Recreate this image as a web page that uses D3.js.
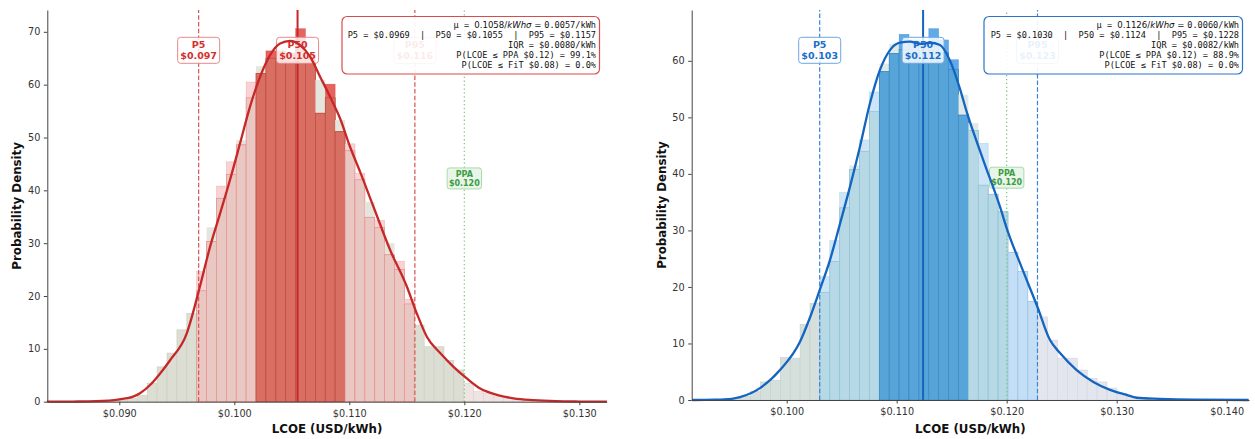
<!DOCTYPE html>
<html>
<head>
<meta charset="utf-8">
<script src="https://cdn.jsdelivr.net/npm/d3@7"></script>
<style>
  body { margin: 0; background: #fff; }
  svg { display: block; font-family: "DejaVu Sans", sans-serif; }
</style>
</head>
<body>
<svg id="chart" width="1255" height="439"></svg>
<script>
// ---------- data ----------
const ppaPrice = 0.12;
const fitPrice = 0.08;
const quantileNames = ["P5", "P25", "P50", "P75", "P95"];

// Scenario A (red)
const leftLcoeTicks = [0.09, 0.10, 0.11, 0.12, 0.13];
const leftDensityTicks = [0, 10, 20, 30, 40, 50, 60, 70];
const leftBinStart = 0.08641;
const leftBinWidth = 0.00086;
const leftHist = [0.05, 0.05, 0.1, 0.2, 0.3, 0.6, 1.2, 3.5, 6.6, 9.2,
  13.6, 16.7, 24.6, 30.3, 40.8, 45.4, 48.6, 60.5, 62.1, 66.4,
  66.4, 66.0, 70.6, 65.5, 54.6, 60.1, 51.1, 48.8, 43.2, 34.9,
  34.3, 27.8, 26.6, 19.4, 14.5, 10.4, 10.4, 7.8, 6.0, 3.5,
  1.9, 1.6, 0.95, 0.6, 0.35, 0.2, 0.1, 0.08, 0.05, 0.03];
const leftBase = [0.05, 0.05, 0.1, 0.2, 0.3, 0.6, 1.2, 3.5, 6.6, 9.2,
  13.6, 16.7, 21.0, 33.0, 38.5, 43.0, 49.5, 57.5, 63.5, 65.0,
  64.5, 65.5, 67.0, 64.0, 60.9, 57.5, 53.3, 47.5, 42.0, 37.8,
  33.0, 30.0, 25.0, 18.5, 14.5, 10.4, 10.4, 7.8, 6.0, 3.5,
  1.9, 1.6, 0.95, 0.6, 0.35, 0.2, 0.1, 0.08, 0.05, 0.03];
const leftKdeX = [0.0837, 0.0860, 0.0880, 0.0900, 0.0912, 0.0918, 0.0927, 0.0935, 0.0944, 0.09586,
  0.09701, 0.09789, 0.09876, 0.09963, 0.1005, 0.10136, 0.10224, 0.10311, 0.10398, 0.10485,
  0.10572, 0.10659, 0.10746, 0.10833, 0.1092, 0.11007, 0.11094, 0.1121, 0.11355, 0.115,
  0.11587, 0.11674, 0.1179, 0.11906, 0.12022, 0.12138, 0.12283, 0.12428, 0.12602, 0.1280, 0.1300, 0.1324];
const leftKdeY = [0.0, 0.03, 0.1, 0.45, 0.95, 1.6, 3.2, 5.2, 7.8, 12.9,
  21.8, 29.3, 35.6, 42.0, 48.9, 55.8, 61.5, 65.6, 67.8, 68.3,
  67.5, 65.3, 61.5, 57.7, 53.6, 48.2, 43.5, 36.9, 28.7, 21.8,
  16.7, 12.3, 9.2, 6.6, 4.4, 2.5, 1.3, 0.64, 0.3, 0.1, 0.03, 0.0];
const leftQuantiles = [0.0969, 0.1017, 0.1055, 0.1097, 0.1157];
const leftMoments = [0.1058, 0.0057];
const leftIqr = 0.0080;
const leftProbs = [99.1, 0.0];

// Scenario B (blue)
const rightLcoeTicks = [0.10, 0.11, 0.12, 0.13, 0.14];
const rightDensityTicks = [0, 10, 20, 30, 40, 50, 60];
const rightBinStart = 0.09492;
const rightBinWidth = 0.0009;
const rightHist = [0.3, 0.6, 1.5, 3.2, 3.5, 7.5, 7.4, 13.4, 17.1, 21.8,
  28.2, 36.7, 40.8, 46.0, 54.5, 58.1, 61.3, 64.7, 63.7, 63.5,
  65.7, 63.7, 60.2, 50.4, 47.7, 45.4, 36.4, 33.3, 26.1, 22.7,
  17.4, 14.7, 10.6, 7.4, 7.4, 5.3, 3.8, 3.2, 2.1, 1.2,
  0.6, 0.4, 0.3, 0.15, 0.1, 0.06, 0.04, 0.03, 0.02, 0.01];
const rightBase = [0.3, 0.6, 1.5, 3.2, 3.5, 7.5, 7.4, 13.4, 17.1, 19.0,
  24.5, 34.0, 41.5, 44.0, 51.0, 59.5, 63.0, 62.0, 63.0, 62.5,
  62.5, 61.5, 58.5, 54.0, 49.0, 38.0, 36.4, 33.3, 26.1, 22.7,
  17.4, 14.7, 10.6, 7.4, 7.4, 5.3, 3.8, 3.2, 2.1, 1.2,
  0.6, 0.4, 0.3, 0.15, 0.1, 0.06, 0.04, 0.03, 0.02, 0.01];
const rightKdeX = [0.0914, 0.0935, 0.0950, 0.09575, 0.09757, 0.09939, 0.10121, 0.1021, 0.10303, 0.10394,
  0.10485, 0.10575, 0.10666, 0.10757, 0.10848, 0.10939, 0.1103, 0.11121, 0.11212, 0.11303,
  0.11394, 0.11485, 0.11576, 0.11636, 0.11788, 0.11939, 0.12005, 0.12121, 0.12279, 0.12394,
  0.12485, 0.12636, 0.12788, 0.12939, 0.1309, 0.13181, 0.1339, 0.1370, 0.1420];
const rightKdeY = [0.0, 0.05, 0.2, 0.5, 2.1, 5.3, 10.3, 14.5, 19.6, 24.8,
  31.2, 37.7, 44.8, 52.5, 58.4, 61.9, 63.2, 63.4, 63.0, 63.2,
  62.8, 60.0, 55.0, 51.0, 42.4, 34.2, 30.1, 24.2, 16.5, 10.6,
  8.3, 5.3, 3.2, 1.8, 0.9, 0.4, 0.2, 0.05, 0.0];
const rightQuantiles = [0.1030, 0.1082, 0.1124, 0.1164, 0.1228];
const rightMoments = [0.1126, 0.0060];
const rightIqr = 0.0082;
const rightProbs = [88.9, 0.0];

// ---------- drawing ----------
const svg = d3.select("#chart");
const usd3 = v => "$" + v.toFixed(3);
const usd4 = v => "$" + v.toFixed(4);
const gap = "\u00A0\u00A0|\u00A0\u00A0";

function drawPanel(p) {
  const x = d3.scaleLinear().domain(p.xDomain).range([p.left, p.right]);
  const y = d3.scaleLinear().domain(p.yDomain).range([p.bottom, p.top]);
  const g = svg.append("g");
  const [q5, q25, q50, q75, q95] = p.quantiles;
  const pal = p.palette;

  const bins = p.hist.map((h, i) => {
    const x0 = p.binStart + i * p.binWidth;
    const x1 = x0 + p.binWidth;
    const c = (x0 + x1) / 2;
    let cat;
    if (c < q5 || c > q95) cat = c < p.ppa ? "tail" : "tailHigh";
    else if (c >= q25 && c <= q75) cat = "iqr";
    else cat = c < p.ppa ? "band" : "bandHigh";
    return { x0, x1, a: h, b: p.base[i], cat };
  });

  const bars = g.append("g");
  bins.forEach(d => {
    const bx = x(d.x0), bw = x(d.x1) - x(d.x0);
    const st = pal[d.cat];
    if (d.cat === "tail" || d.cat === "tailHigh") {
      bars.append("rect").attr("x", bx).attr("width", bw)
        .attr("y", y(d.a)).attr("height", y(0) - y(d.a))
        .attr("fill", st.body).attr("stroke", st.edge).attr("stroke-width", 0.6);
      return;
    }
    bars.append("rect").attr("x", bx).attr("width", bw)
      .attr("y", y(d.b)).attr("height", y(0) - y(d.b))
      .attr("fill", pal.baseVisible);
    bars.append("rect").attr("x", bx).attr("width", bw)
      .attr("y", y(d.a)).attr("height", y(0) - y(d.a))
      .attr("fill", st.top).attr("stroke", st.edge).attr("stroke-width", 0.5).attr("stroke-opacity", 0.6);
    const m = Math.min(d.a, d.b);
    bars.append("rect").attr("x", bx).attr("width", bw)
      .attr("y", y(m)).attr("height", y(0) - y(m))
      .attr("fill", st.body).attr("stroke", st.edge).attr("stroke-width", 0.7);
  });

  // reference lines
  const vline = (v, color, dash, w) => g.append("line")
    .attr("x1", x(v)).attr("x2", x(v)).attr("y1", p.bottom).attr("y2", p.top)
    .attr("stroke", color).attr("stroke-width", w).attr("stroke-dasharray", dash);
  vline(p.ppa, "#7cc47f", "1.3,2.6", 1.2);
  vline(q5, p.dashColor, "4.5,2.2", 1.2);
  vline(q95, p.dashColor, "4.5,2.2", 1.2);
  vline(q50, p.lineColor, null, 2);

  // quantile tags
  const tag = (v, name) => {
    const cx = x(v), top = p.top + 27.3;
    const t = g.append("g");
    t.append("rect").attr("x", cx - 21).attr("y", top).attr("width", 42).attr("height", 26)
      .attr("rx", 3).attr("fill", "#fff").attr("fill-opacity", 0.82)
      .attr("stroke", p.tagStroke).attr("stroke-width", 1);
    t.append("text").attr("x", cx).attr("y", top + 11).attr("text-anchor", "middle")
      .attr("font-size", 9.5).attr("font-weight", "bold").attr("fill", p.tagText).text(name);
    t.append("text").attr("x", cx).attr("y", top + 21.7).attr("text-anchor", "middle")
      .attr("font-size", 9.5).attr("font-weight", "bold").attr("fill", p.tagText).text(usd3(v));
  };
  tag(q5, quantileNames[0]);
  tag(q50, quantileNames[2]);
  tag(q95, quantileNames[4]);

  // PPA tag
  const pcx = x(p.ppa), ptop = p.top + (p.bottom - p.top) * 0.43 - 10.5;
  g.append("rect").attr("x", pcx - 17.2).attr("y", ptop).attr("width", 34.4).attr("height", 21)
    .attr("rx", 2.5).attr("fill", "#e6f4e6").attr("fill-opacity", 0.9)
    .attr("stroke", "#a9d9ab").attr("stroke-width", 1);
  g.append("text").attr("x", pcx).attr("y", ptop + 9).attr("text-anchor", "middle")
    .attr("font-size", 8).attr("font-weight", "bold").attr("fill", "#3e9b43").text("PPA");
  g.append("text").attr("x", pcx).attr("y", ptop + 18.2).attr("text-anchor", "middle")
    .attr("font-size", 8).attr("font-weight", "bold").attr("fill", "#3e9b43").text(usd3(p.ppa));

  // KDE curve
  const kde = p.kdeX.map((v, i) => [v, p.kdeY[i]]);
  g.append("path").datum(kde)
    .attr("d", d3.line().x(d => x(d[0])).y(d => y(d[1])).curve(d3.curveMonotoneX))
    .attr("fill", "none").attr("stroke", p.lineColor).attr("stroke-width", 2.3)
    .attr("stroke-linejoin", "round");

  // axes
  const xa = g.append("g").attr("transform", `translate(0,${p.bottom})`)
    .call(d3.axisBottom(x).tickValues(p.xTicks).tickFormat(usd3).tickSize(3.5).tickSizeOuter(0).tickPadding(4.9));
  const ya = g.append("g").attr("transform", `translate(${p.left},0)`)
    .call(d3.axisLeft(y).tickValues(p.yTicks).tickFormat(d3.format("d")).tickSize(3.5).tickSizeOuter(0).tickPadding(3.5));
  [xa, ya].forEach(a => {
    a.attr("font-family", "DejaVu Sans");
    a.select(".domain").attr("stroke", "#444").attr("stroke-width", 1);
    a.selectAll(".tick line").attr("stroke", "#444");
    a.selectAll(".tick text").attr("font-size", 9.7).attr("fill", "#333");
  });

  g.append("text").attr("x", (p.left + p.right) / 2).attr("y", 432.5)
    .attr("text-anchor", "middle").attr("font-size", 11.8).attr("font-weight", "bold")
    .attr("fill", "#111").text("LCOE (USD/kWh)");
  g.append("text").attr("transform", `translate(${p.left - 26},${(p.top + p.bottom) / 2}) rotate(-90)`)
    .attr("text-anchor", "middle").attr("font-size", 11.8).attr("font-weight", "bold")
    .attr("fill", "#111").text("Probability Density");

  // summary box
  g.append("rect").attr("x", p.boxX).attr("y", 16.5).attr("width", p.boxW).attr("height", 57.5)
    .attr("rx", 5).attr("fill", "#fff").attr("fill-opacity", 0.9)
    .attr("stroke", p.boxStroke).attr("stroke-width", 1.2);
  const tx = p.boxX + p.boxW - 3.5;
  const mono = "DejaVu Sans Mono";
  const fs = 8.6;
  const l1 = g.append("text").attr("x", tx).attr("y", 28).attr("text-anchor", "end")
    .attr("font-size", fs).attr("fill", "#111");
  l1.append("tspan").attr("font-family", mono).text("μ\u00A0=\u00A0");
  l1.append("tspan").attr("font-family", "DejaVu Sans").text(p.moments[0].toFixed(4) + "/");
  l1.append("tspan").attr("font-family", "DejaVu Sans").attr("font-style", "italic").text("kWhσ");
  l1.append("tspan").attr("font-family", "DejaVu Sans").text("\u00A0=\u00A0");
  l1.append("tspan").attr("font-family", mono).text(p.moments[1].toFixed(4) + "/kWh");
  const lines = [
    `${quantileNames[0]} = ${usd4(q5)}${gap}${quantileNames[2]} = ${usd4(q50)}${gap}${quantileNames[4]} = ${usd4(q95)}`,
    `IQR = ${usd4(p.iqr)}/kWh`,
    `P(LCOE ≤ PPA $${p.ppa.toFixed(2)}) = ${p.probs[0].toFixed(1)}%`,
    `P(LCOE ≤ FiT $${p.fit.toFixed(2)}) = ${p.probs[1].toFixed(1)}%`
  ];
  lines.forEach((s, i) => {
    g.append("text").attr("x", tx).attr("y", 38 + i * 10).attr("text-anchor", "end")
      .attr("font-family", mono).attr("font-size", fs).attr("fill", "#111")
      .text(s.replace(/ /g, "\u00A0"));
  });
}

drawPanel({
  left: 47.3, right: 606.7, top: 10, bottom: 401.7,
  xDomain: [0.08374, 0.13238], yDomain: [0, 74.13],
  xTicks: leftLcoeTicks, yTicks: leftDensityTicks,
  binStart: leftBinStart, binWidth: leftBinWidth, hist: leftHist, base: leftBase,
  kdeX: leftKdeX, kdeY: leftKdeY, quantiles: leftQuantiles,
  moments: leftMoments, iqr: leftIqr, probs: leftProbs, ppa: ppaPrice, fit: fitPrice,
  lineColor: "#c62828", dashColor: "#d9534f", tagStroke: "#e88a8a", tagText: "#d32f2f",
  boxStroke: "#d84c4c", boxX: 342, boxW: 257.5,
  palette: {
    baseVisible: "#e4e6de",
    tail: { body: "#dcddd3", edge: "#cbcdc1" },
    tailHigh: { body: "#eee4e2", edge: "#e0d2cf" },
    band: { body: "#e9c8c3", top: "#f9d3d3", edge: "#e68e89" },
    bandHigh: { body: "#e9c8c3", top: "#f9d3d3", edge: "#e68e89" },
    iqr: { body: "#d86f62", top: "#e8625f", edge: "#bf463e" }
  }
});

drawPanel({
  left: 691.7, right: 1249, top: 10, bottom: 400,
  xDomain: [0.091364, 0.14203], yDomain: [0, 68.99],
  xTicks: rightLcoeTicks, yTicks: rightDensityTicks,
  binStart: rightBinStart, binWidth: rightBinWidth, hist: rightHist, base: rightBase,
  kdeX: rightKdeX, kdeY: rightKdeY, quantiles: rightQuantiles,
  moments: rightMoments, iqr: rightIqr, probs: rightProbs, ppa: ppaPrice, fit: fitPrice,
  lineColor: "#1565c0", dashColor: "#3b83d6", tagStroke: "#6ea7e4", tagText: "#1a6fc9",
  boxStroke: "#2a75c9", boxX: 984, boxW: 258.5,
  palette: {
    baseVisible: "#dfe9e6",
    tail: { body: "#d5e0dc", edge: "#c3d0cb" },
    tailHigh: { body: "#e4e6ee", edge: "#d2d5df" },
    band: { body: "#b6d9e5", top: "#cde5f6", edge: "#8cc0d6" },
    bandHigh: { body: "#c4def6", top: "#cfe5f8", edge: "#96c4ec" },
    iqr: { body: "#57a5d8", top: "#60aae9", edge: "#3a86c2" }
  }
});
</script>
</body>
</html>
